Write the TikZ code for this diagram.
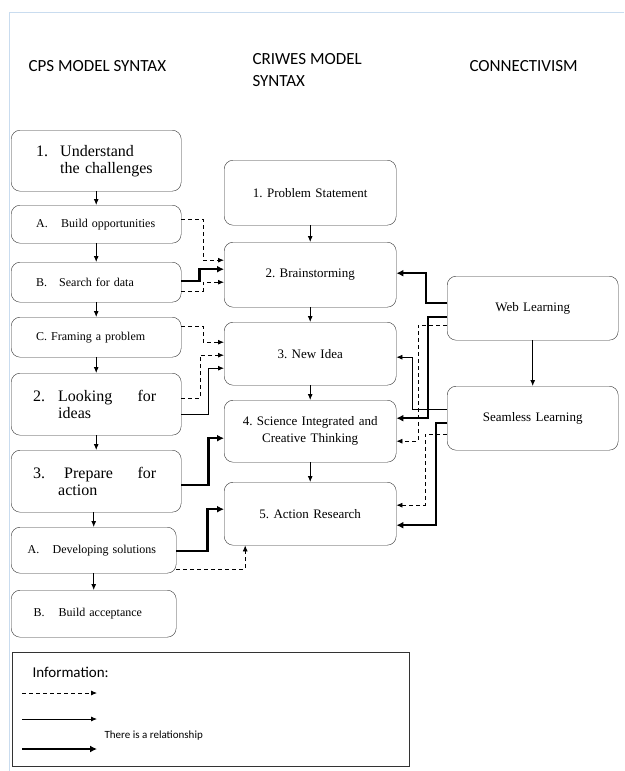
\documentclass[tikz,border=0pt]{standalone}
\usepackage{fontspec}
\setmainfont{Liberation Serif}
\newfontfamily\calfont{Carlito}
\usepackage{xcolor}
\usepackage{tikz}
\usetikzlibrary{arrows.meta}
\definecolor{pageblue}{HTML}{C9DCEF}
\definecolor{boxline}{HTML}{333333}
\frenchspacing

\tikzset{
  cpsbox/.style={draw=boxline, rounded corners=9pt, anchor=north west,
        minimum width=170pt, text width=120pt, align=left, inner ysep=0pt,
        font=\fontsize{12}{14}\selectfont},
  bigcps/.style={cpsbox, font=\fontsize{16}{17}\selectfont},
  crwbox/.style={draw=boxline, rounded corners=9pt, anchor=north west,
        minimum width=172pt, text width=160pt, align=center, inner ysep=0pt,
        font=\fontsize{13}{17}\selectfont},
  connbox/.style={crwbox, minimum width=171pt},
  heading/.style={font=\calfont\fontsize{17}{22}\selectfont, align=left},
  thinarr/.style={line width=0.8pt, -{Latex[length=6pt,width=5pt]}},
  dasharr/.style={thinarr, dash pattern=on 4pt off 3pt},
  thickarr/.style={line width=2.4pt, -{Latex[length=7pt,width=7pt]}}
}

\begin{document}
\begin{tikzpicture}[x=1pt, y=-1pt]
  \useasboundingbox (0,0) rectangle (624,771);
  % page edge
  \draw[pageblue, line width=1pt] (9,771) -- (9,12) -- (624,12);

  % column headings
  \node[heading, anchor=west] (hcps) at (25,66) {CPS MODEL SYNTAX};
  \node[heading, anchor=north west] (hcriwes) at (249,50) {CRIWES MODEL\\SYNTAX};
  \node[heading, anchor=west] (hconn) at (466,66) {CONNECTIVISM};

  % CPS model syntax
  \node[bigcps, minimum height=61pt] (cps1) at (11,130)
    {\makebox[24pt][l]{1.}Understand\\\hspace*{24pt}the challenges};
  \node[cpsbox, minimum height=38pt] (cpsA) at (11,205)
    {\makebox[25pt][l]{A.}Build opportunities};
  \node[cpsbox, minimum height=40pt] (cpsB) at (11,262)
    {\makebox[23pt][l]{B.}Search for data};
  \node[cpsbox, minimum height=40pt] (cpsC) at (11,317)
    {C. Framing a problem};
  \node[bigcps, minimum height=62pt] (cps2) at (11,373)
    {\hspace*{-3pt}\makebox[25pt][l]{2.}Looking\hfill for\\\hspace*{22pt}ideas};
  \node[bigcps, minimum height=62pt] (cps3) at (11,450)
    {\hspace*{-3pt}\makebox[25pt][l]{3.}\hspace{6pt}Prepare\hfill for\\\hspace*{22pt}action};
  \node[cpsbox, minimum width=165pt, text width=132pt, minimum height=46pt] (cpsD) at (11,527)
    {\makebox[25pt][l]{A.}Developing solutions};
  \node[cpsbox, minimum width=165pt, minimum height=47pt] (cpsE) at (11,590)
    {\makebox[25pt][l]{B.}Build acceptance};

  \draw[thinarr] (cps1) -- (cpsA);
  \draw[thinarr] (cpsA) -- (cpsB);
  \draw[thinarr] (cpsB) -- (cpsC);
  \draw[thinarr] (cpsC) -- (cps2);
  \draw[thinarr] (cps2) -- (cps3);
  \draw[thinarr] (cps3.south -| cpsD.north) -- (cpsD.north);
  \draw[thinarr] (cpsD) -- (cpsE);

  % CRIWES model syntax
  \node[crwbox, minimum height=65pt] (crw1) at (224,160) {1. Problem Statement};
  \node[crwbox, minimum height=65pt] (crw2) at (224,242) {2. Brainstorming};
  \node[crwbox, minimum height=63pt] (crw3) at (224,322) {3. New Idea};
  \node[crwbox, minimum height=62pt] (crw4) at (224,400)
    {4. Science Integrated and\\Creative Thinking};
  \node[crwbox, minimum height=63pt] (crw5) at (224,482) {5. Action Research};

  \draw[thinarr] (crw1) -- (crw2);
  \draw[thinarr] (crw2) -- (crw3);
  \draw[thinarr] (crw3) -- (crw4);
  \draw[thinarr] (crw4) -- (crw5);

  % connectivism
  \node[connbox, minimum height=64pt] (web) at (447,276) {Web Learning};
  \node[connbox, minimum height=64pt] (seam) at (447,386) {Seamless Learning};
  \draw[thinarr] (web) -- (seam);

  % CPS -> CRIWES
  \draw[dasharr] ([yshift=5pt]cpsA.east) -- ++(22,0) |- ([yshift=14.5pt]crw2.west);
  \draw[thickarr] ([yshift=1pt]cpsB.east) -- ++(18,0) |- ([yshift=5.5pt]crw2.west);
  \draw[dasharr] ([yshift=-9pt]cpsB.east) -- ++(22,0) |- ([yshift=-7.5pt]crw2.west);
  \draw[dasharr] ([yshift=11pt]cpsC.east) -- ++(22,0) |- ([yshift=11.5pt]crw3.west);
  \draw[dasharr] ([yshift=6pt]cps2.east) -- ++(19,0) |- ([yshift=-1.5pt]crw3.west);
  \draw[thinarr] ([yshift=-10pt]cps2.east) -- ++(27,0) |- ([yshift=-14.5pt]crw3.west);
  \draw[thickarr] ([yshift=-4pt]cps3.east) -- ++(27,0) |- ([yshift=-7pt]crw4.west);
  \draw[thickarr] ([yshift=-1pt]cpsD.east) -- ++(31,0) |- ([yshift=4.5pt]crw5.west);
  \draw[dasharr] ([yshift=-19pt]cpsD.east) -| ([xshift=-65pt]crw5.south);

  % connectivism -> CRIWES
  \draw[thickarr] ([yshift=5pt]web.west) -- ++(-21,0) |- ([yshift=1.5pt]crw2.east);
  \draw[thickarr] ([yshift=-9pt]web.west) -- ++(-19,0) |- ([yshift=13pt]crw4.east);
  \draw[dasharr] ([yshift=-17pt]web.west) -- ++(-29,0) |- ([yshift=-10pt]crw4.east);
  \draw[thinarr] ([yshift=9pt]seam.west) -- ++(-35,0) |- ([yshift=-3.5pt]crw3.east);
  \draw[thickarr] ([yshift=-5pt]seam.west) -- ++(-11,0) |- ([yshift=-11.5pt]crw5.east);
  \draw[dasharr] ([yshift=-16pt]seam.west) -- ++(-22,0) |- ([yshift=8.5pt]crw5.east);

  % legend
  \node[draw=boxline, anchor=north west, minimum width=397pt, minimum height=114pt,
        line width=0.8pt] (legend) at (12,652) {};
  \node[anchor=west, font=\calfont\fontsize{15}{18}\selectfont] (info) at (29,672)
    {Information:};
  \draw[dasharr] ([shift={(10pt,-41pt)}]legend.north west) -- ++(75,0);
  \draw[thinarr] ([shift={(10pt,-67pt)}]legend.north west) -- ++(75,0);
  \draw[thickarr] ([shift={(10pt,-97pt)}]legend.north west) -- ++(75,0);
  \node[anchor=west, font=\calfont\fontsize{11}{13}\selectfont] (relation) at (101,736)
    {There is a relationship};
\end{tikzpicture}
\end{document}
